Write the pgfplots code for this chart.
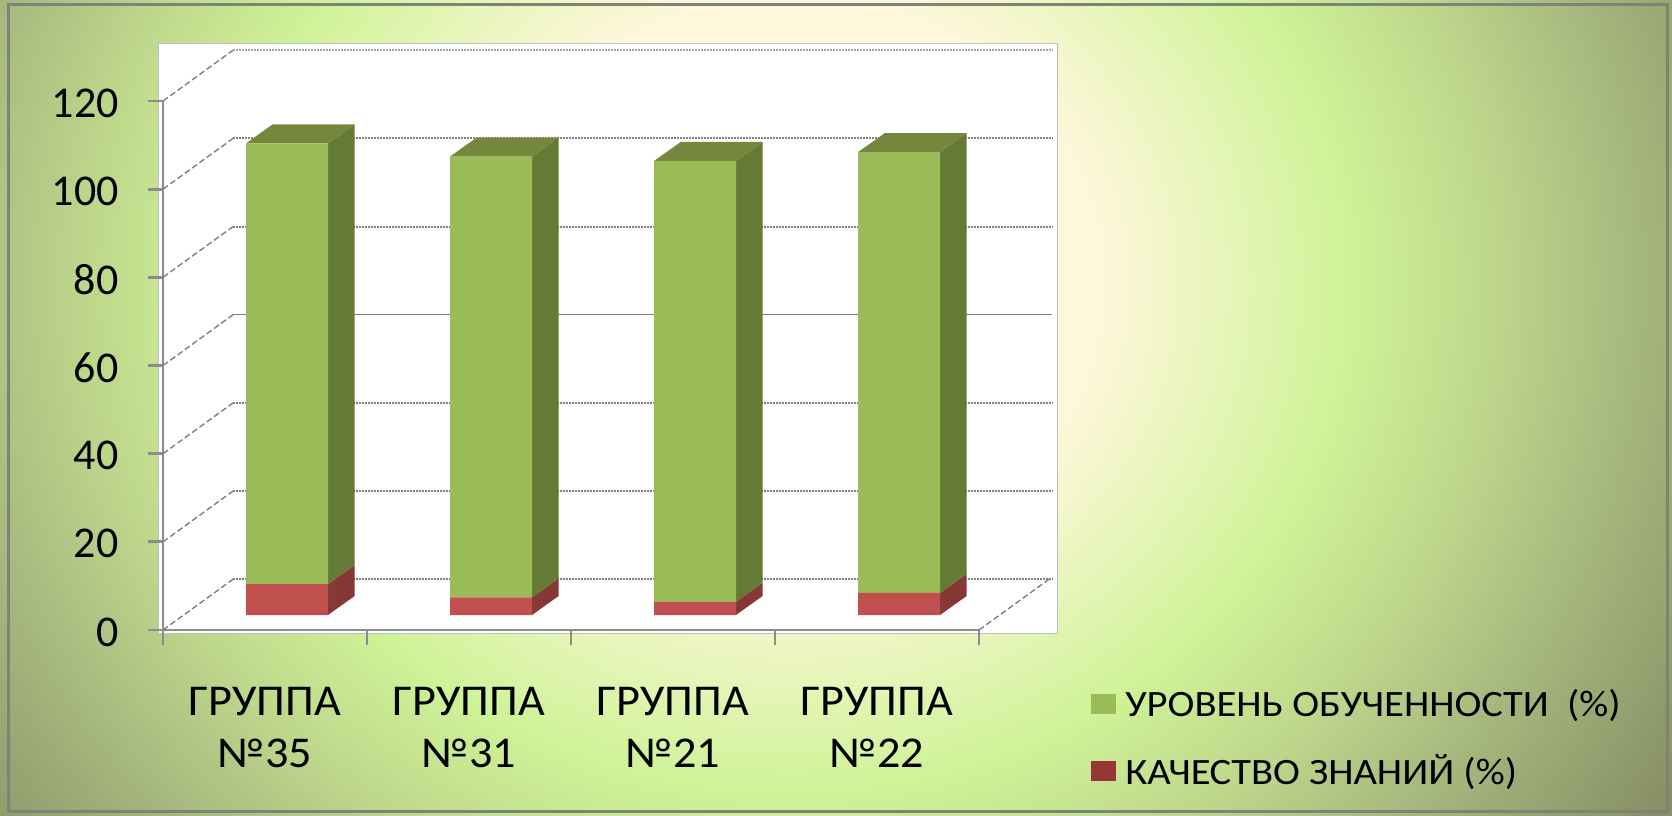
\documentclass[border=0pt]{standalone}
\usepackage{fontspec}
\setmainfont[FakeStretch=1.09]{Carlito}
\newfontfamily\tickfam{Carlito}
\newfontfamily\catfam[FakeStretch=1.05]{Carlito}
\usepackage{pgfplots}
\usepackage{pgfplotstable}
\pgfplotsset{compat=1.18}
\definecolor{fgreen}{HTML}{9BBB59}
\definecolor{sgreen}{HTML}{647A35}
\definecolor{tgreen}{HTML}{74873C}
\definecolor{fred}{HTML}{C0504D}
\definecolor{sred}{HTML}{853836}
\definecolor{lred}{HTML}{953735}
\definecolor{axgray}{HTML}{8C8C8C}
\definecolor{gridgray}{HTML}{808080}
\definecolor{frame}{HTML}{7E8278}
\definecolor{bg0}{HTML}{FFF7DC}
\definecolor{bg1}{HTML}{CFF398}
\definecolor{bg2}{HTML}{BFD98C}
\definecolor{bg3}{HTML}{A8BA7F}
\definecolor{bg4}{HTML}{858D64}
\pgfdeclareradialshading{bgshade}{\pgfpointorigin}{%
 color(0bp)=(bg0);
 color(6.9bp)=(bg0);
 color(12.5bp)=(bg1);
 color(15.6bp)=(bg2);
 color(18.75bp)=(bg3);
 color(23.75bp)=(bg4);
 color(50bp)=(bg4)}
\pgfplotstableread{
x base quality level
0.5 3.4 7 100
1.5 3.4 4 100
2.5 3.4 3 100
3.5 3.4 5 100
}\bardata
\pgfplotsset{gridh/.style={gridgray,line width=1pt,dash pattern=on 1pt off 0.5pt,forget plot},
 gridd/.style={gridgray,line width=0.7pt,dash pattern=on 3pt off 1.5pt,forget plot},
 base/.style={scale only axis,width=408pt,height=264.5pt,at={(81.5pt,92.5pt)},anchor=south west,
  xmin=0,xmax=4,ymin=0,ymax=120,clip=false}}
\begin{document}
\begin{tikzpicture}
\useasboundingbox (0,0) rectangle (836pt,407.5pt);
\begin{scope}
\clip (0,0) rectangle (836pt,407.5pt);
\shade[shading=bgshade] (-160pt,-243.5pt) rectangle (950pt,776.5pt);
\end{scope}
\draw[frame,line width=1.5pt] (4.2pt,1.7pt) rectangle (833.5pt,405pt);
\fill[white] (79.4pt,91pt) rectangle (528.7pt,386pt);
\draw[gray!50,line width=0.4pt] (79.4pt,91pt) rectangle (528.7pt,386pt);
\begin{axis}[base,
  axis x line*=bottom, axis y line*=left,
  axis line style={axgray,line width=1.2pt,-},
  tick align=outside,
  tick style={axgray,line width=1.4pt},
  major tick length=7.5pt,
  xtick={0,1,2,3,4}, xticklabels={},
  ytick={0,20,40,60,80,100,120},
  /pgf/number format/assume math mode=true,
  yticklabel style={font=\tickfam\fontsize{22}{26}\selectfont,xshift=-11.5pt,yshift=-1pt,inner sep=3pt},
]
% side wall
\addplot[gridd] coordinates {(0,0)(0.343,11.5)};
\addplot[gridd] coordinates {(0,20)(0.343,31.5)};
\addplot[gridd] coordinates {(0,40)(0.343,51.5)};
\addplot[gridd] coordinates {(0,60)(0.343,71.5)};
\addplot[gridd] coordinates {(0,80)(0.343,91.5)};
\addplot[gridd] coordinates {(0,100)(0.343,111.5)};
\addplot[gridd] coordinates {(0,120)(0.343,131.5)};
\addplot[gridd] coordinates {(4,0)(4.343,11.5)};
% back wall
\addplot[gridh] coordinates {(0.343,11.5)(4.358,11.5)};
\addplot[gridh] coordinates {(0.343,31.5)(4.358,31.5)};
\addplot[gridh] coordinates {(0.343,51.5)(4.358,51.5)};
\addplot[gridgray,line width=0.5pt,forget plot] coordinates {(0.343,71.5)(4.358,71.5)};
\addplot[gridh] coordinates {(0.343,91.5)(4.358,91.5)};
\addplot[gridh] coordinates {(0.343,111.5)(4.358,111.5)};
\addplot[gridh,gridgray!70] coordinates {(0.343,131.5)(4.358,131.5)};
% bar sides (red)
\addplot[fill=sred,draw=none] coordinates {(0.8085,3.4)(0.9395,7.71)(0.9395,14.71)(0.8085,10.4)} -- cycle;
\addplot[fill=sred,draw=none] coordinates {(1.8085,3.4)(1.9395,7.71)(1.9395,11.71)(1.8085,7.4)} -- cycle;
\addplot[fill=sred,draw=none] coordinates {(2.8085,3.4)(2.9395,7.71)(2.9395,10.71)(2.8085,6.4)} -- cycle;
\addplot[fill=sred,draw=none] coordinates {(3.8085,3.4)(3.9395,7.71)(3.9395,12.71)(3.8085,8.4)} -- cycle;
% bar sides (green)
\addplot[fill=sgreen,draw=none] coordinates {(0.8085,10.4)(0.9395,14.71)(0.9395,114.71)(0.8085,110.4)} -- cycle;
\addplot[fill=sgreen,draw=none] coordinates {(1.8085,7.4)(1.9395,11.71)(1.9395,111.71)(1.8085,107.4)} -- cycle;
\addplot[fill=sgreen,draw=none] coordinates {(2.8085,6.4)(2.9395,10.71)(2.9395,110.71)(2.8085,106.4)} -- cycle;
\addplot[fill=sgreen,draw=none] coordinates {(3.8085,8.4)(3.9395,12.71)(3.9395,112.71)(3.8085,108.4)} -- cycle;
% bar tops
\addplot[fill=tgreen,draw=none] coordinates {(0.407,110.4)(0.8085,110.4)(0.9395,114.71)(0.538,114.71)} -- cycle;
\addplot[fill=tgreen,draw=none] coordinates {(1.407,107.4)(1.8085,107.4)(1.9395,111.71)(1.538,111.71)} -- cycle;
\addplot[fill=tgreen,draw=none] coordinates {(2.407,106.4)(2.8085,106.4)(2.9395,110.71)(2.538,110.71)} -- cycle;
\addplot[fill=tgreen,draw=none] coordinates {(3.407,108.4)(3.8085,108.4)(3.9395,112.71)(3.538,112.71)} -- cycle;
\end{axis}
\begin{axis}[base,
  ybar stacked, bar width=41pt, bar shift=11pt,
  axis line style={draw=none},
  tick style={draw=none},
  ytick=\empty,
  xtick={0.5,1.5,2.5,3.5},
  xticklabels={{ГРУППА\\№35},{ГРУППА\\№31},{ГРУППА\\№21},{ГРУППА\\№22}},
  xticklabel style={align=center,font=\catfam\fontsize{22}{26}\selectfont,yshift=-28.5pt,inner sep=0pt},
  legend style={at={(1.137,-0.111)},anchor=north west,draw=none,fill=none,
    font=\fontsize{18.6}{22}\selectfont,row sep=17.5pt,inner sep=0pt,
    nodes={inner sep=0pt,anchor=west}},
  legend cell align=left,
  legend image code/.code={\fill[#1,draw=none] (0pt,-5pt) rectangle (12.5pt,5pt);},
]
\addplot[draw=none,fill=none,forget plot] table[x=x,y=base] {\bardata};
\addplot[draw=none,fill=fred,forget plot] table[x=x,y=quality] {\bardata};
\addplot[draw=none,fill=fgreen,forget plot] table[x=x,y=level] {\bardata};
\addlegendimage{fill=fgreen}\addlegendentry{\ УРОВЕНЬ ОБУЧЕННОСТИ\ \ (\%)}
\addlegendimage{fill=lred}\addlegendentry{\ КАЧЕСТВО ЗНАНИЙ (\%)}
\end{axis}
\end{tikzpicture}
\end{document}
